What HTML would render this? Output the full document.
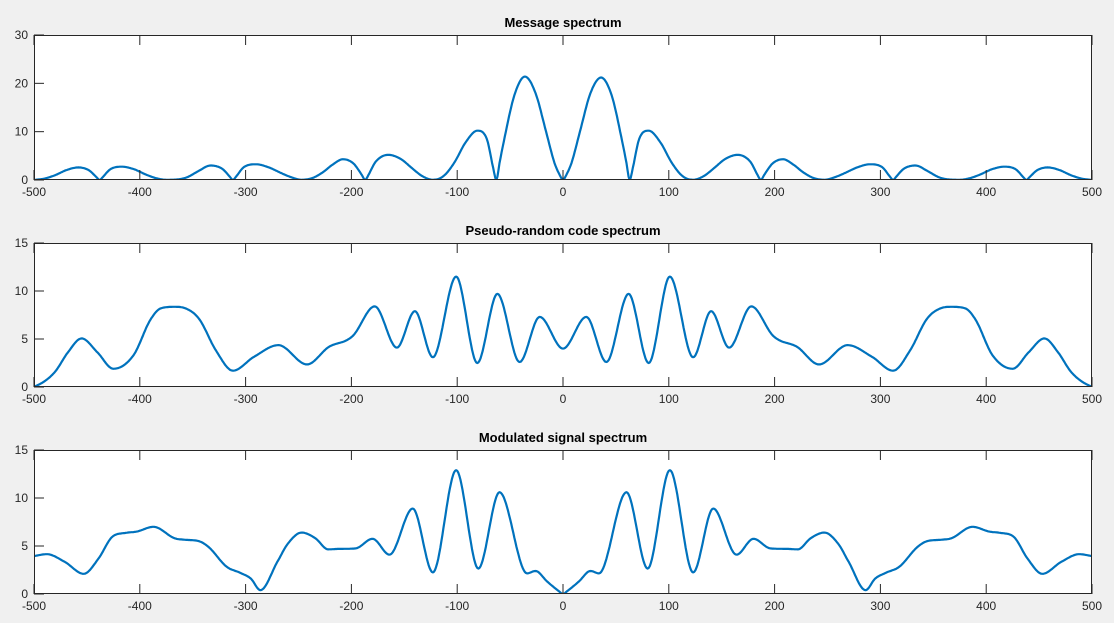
<!DOCTYPE html>
<html><head><meta charset="utf-8"><style>
body{margin:0;background:#f0f0f0;}
svg{display:block;font-family:"Liberation Sans",Arial,sans-serif;}
</style></head><body>
<svg id="fig" width="1114" height="623" viewBox="0 0 1114 623" xmlns="http://www.w3.org/2000/svg">
<rect width="1114" height="623" fill="#f0f0f0"/>
</svg>
<script>
const xTicks=[-500,-400,-300,-200,-100,0,100,200,300,400,500];
const yTicks1=[0,10,20,30];
const yTicks23=[0,5,10,15];
const titles=["Message spectrum","Pseudo-random code spectrum","Modulated signal spectrum"];

const msgX=[-500,-490,-480,-470,-458,-448,-441,-438,-435,-428,-417,-405,-395,-385,-375,-365,-355,-345,-333,-322,-315,-312,-309,-302,-290,-278,-266,-256,-247,-237,-227,-217,-208,-198,-190,-187,-184,-177,-165,-153,-143,-133,-123,-113,-103,-92,-81,-72,-66,-63,-60,-55,-46,-36,-26,-16,-8,-3,0,
3,8,16,26,36,46,55,60,63,66,72,81,92,103,113,123,133,143,153,165,177,184,187,190,198,208,217,227,237,247,256,266,278,290,302,309,312,315,322,333,345,355,365,375,385,395,405,417,428,435,438,441,448,458,470,480,490,500];
const msgY=[0,0.3,1.0,2.0,2.6,2.0,0.6,0,0.6,2.2,2.75,2.2,1.2,0.4,0.05,0.1,0.6,1.8,3.0,2.3,0.7,0,0.7,2.6,3.25,2.6,1.4,0.5,0.05,0.4,1.6,3.3,4.3,3.4,1.0,0,1.0,3.8,5.2,4.3,2.5,0.8,0.05,0.8,3.5,7.8,10.2,8.5,2.5,0,3.5,9,17.5,21.4,18,10,3.5,1.0,0,
1.0,3.5,10,18,21.2,17.5,9,3.5,0,2.5,8.5,10.2,7.8,3.5,0.8,0.05,0.8,2.5,4.3,5.2,3.8,1.0,0,1.0,3.4,4.3,3.3,1.6,0.4,0.05,0.5,1.4,2.6,3.25,2.6,0.7,0,0.7,2.3,3.0,1.8,0.6,0.1,0.05,0.4,1.2,2.2,2.75,2.2,0.6,0,0.6,2.0,2.6,2.0,1.0,0.3,0];

const prnX=[-500,-490,-480,-468,-455,-440,-425,-406,-390,-380,-367,-357,-344,-328,-312,-292,-269,-242,-221,-204,-198,-178,-157,-140,-123,-101,-81,-62,-41,-22,0,
22,41,62,81,101,123,140,157,178,198,204,221,242,269,292,312,328,344,357,367,380,390,406,425,440,455,468,480,490,500];
const prnY=[0,0.6,1.6,3.6,5.06,3.6,1.9,3.3,7.0,8.2,8.35,8.2,7.1,3.8,1.7,3.15,4.36,2.35,4.2,4.9,5.4,8.4,4.1,7.9,3.1,11.5,2.5,9.7,2.6,7.3,4.0,
7.3,2.6,9.7,2.5,11.5,3.1,7.9,4.1,8.4,5.4,4.9,4.2,2.35,4.36,3.15,1.7,3.8,7.1,8.2,8.35,8.2,7.0,3.3,1.9,3.6,5.06,3.6,1.6,0.6,0];

const modX=[-500,-488,-471,-453,-439,-426,-413,-403,-387,-367,-357,-344,-335,-318,-305,-295,-286,-270,-260,-247,-234,-222,-211,-196,-180,-164,-142,-123,-101,-80,-60,-34,-26,-15,-4,0,
4,15,26,34,60,80,101,123,142,164,180,196,211,222,234,247,260,270,286,295,305,318,335,344,357,367,387,403,413,426,439,453,471,488,500];
const modY=[3.95,4.15,3.35,2.1,3.7,5.96,6.37,6.5,7.0,5.8,5.65,5.5,4.9,2.85,2.2,1.6,0.4,3.35,5.25,6.4,5.8,4.65,4.7,4.75,5.75,4.1,8.9,2.25,12.9,2.65,10.6,2.15,2.4,1.3,0.3,0,
0.3,1.3,2.4,2.15,10.6,2.65,12.9,2.25,8.9,4.1,5.75,4.75,4.7,4.65,5.8,6.4,5.25,3.35,0.4,1.6,2.2,2.85,4.9,5.5,5.65,5.8,7.0,6.5,6.37,5.96,3.7,2.1,3.35,4.15,3.95];

const NS="http://www.w3.org/2000/svg";
const svg=document.getElementById('fig');
function mk(tag,attrs,parent){const e=document.createElementNS(NS,tag);for(const k in attrs)e.setAttribute(k,attrs[k]);(parent||svg).appendChild(e);return e;}

function monotone(xs,ys){
  const n=xs.length,d=[],m=new Array(n);
  for(let i=0;i<n-1;i++)d.push((ys[i+1]-ys[i])/(xs[i+1]-xs[i]));
  m[0]=d[0];m[n-1]=d[n-2];
  for(let i=1;i<n-1;i++){m[i]=(d[i-1]*d[i]<=0)?0:(d[i-1]+d[i])/2;}
  for(let i=0;i<n-1;i++){
    if(d[i]===0){m[i]=0;m[i+1]=0;continue;}
    const a=m[i]/d[i],b=m[i+1]/d[i],s=a*a+b*b;
    if(s>9){const t=3/Math.sqrt(s);m[i]=t*a*d[i];m[i+1]=t*b*d[i];}
  }
  return function(x){
    let i=0;while(i<n-2&&x>xs[i+1])i++;
    const h=xs[i+1]-xs[i],t=(x-xs[i])/h,t2=t*t,t3=t2*t;
    return (2*t3-3*t2+1)*ys[i]+(t3-2*t2+t)*h*m[i]+(-2*t3+3*t2)*ys[i+1]+(t3-t2)*h*m[i+1];
  };
}

const L=34,R=1092;
const panels=[
 {top:35,bot:180,ymax:30,yt:yTicks1,xs:msgX,ys:msgY,name:'message'},
 {top:243,bot:387,ymax:15,yt:yTicks23,xs:prnX,ys:prnY,name:'pn-code'},
 {top:450,bot:594,ymax:15,yt:yTicks23,xs:modX,ys:modY,name:'modulated'}
];
panels.forEach((p,pi)=>{
  const sx=v=>L+(v+500)/1000*(R-L);
  const sy=v=>p.bot-v/p.ymax*(p.bot-p.top);
  const g=mk('g',{});
  
  
  mk('rect',{x:L,y:p.top,width:R-L,height:p.bot-p.top,fill:'#fff'},g);
  const cp=mk('clipPath',{id:'cp'+pi},g);
  mk('rect',{x:L,y:p.top,width:R-L,height:p.bot-p.top},cp);
  const f=monotone(p.xs,p.ys);
  let pts=[];
  for(let x=-500;x<=500;x+=1){pts.push(sx(x).toFixed(1)+','+sy(f(x)).toFixed(1));}
  const line=mk('polyline',{points:pts.join(' '),fill:'none',stroke:'#0072BD','stroke-width':2.2,'stroke-linejoin':'round','clip-path':'url(#cp'+pi+')'},g);
  
  
  xTicks.forEach(t=>{
    const x=sx(t);
    mk('line',{x1:x,x2:x,y1:p.bot,y2:p.bot-10,stroke:'#262626','stroke-width':1},g);
    mk('line',{x1:x,x2:x,y1:p.top,y2:p.top+10,stroke:'#262626','stroke-width':1},g);
    const tx=mk('text',{x:x,y:p.bot+16,'text-anchor':'middle','font-size':12,fill:'#262626'},g);
    tx.textContent=t;
    
    
  });
  p.yt.forEach(t=>{
    const y=sy(t);
    mk('line',{x1:L,x2:L+10,y1:y,y2:y,stroke:'#262626','stroke-width':1},g);
    const tx=mk('text',{x:L-6,y:y+4,'text-anchor':'end','font-size':12,fill:'#262626'},g);
    tx.textContent=t;
    
    
  });
  mk('rect',{x:L+0.5,y:p.top+0.5,width:R-L-1,height:p.bot-p.top-1,fill:'none',stroke:'#262626','stroke-width':1},g);
  const tt=mk('text',{x:(L+R)/2,y:p.top-8,'text-anchor':'middle','font-size':13,'font-weight':'bold',fill:'#000'},g);
  tt.textContent=titles[pi];
  
  
});
</script>
</body></html>
